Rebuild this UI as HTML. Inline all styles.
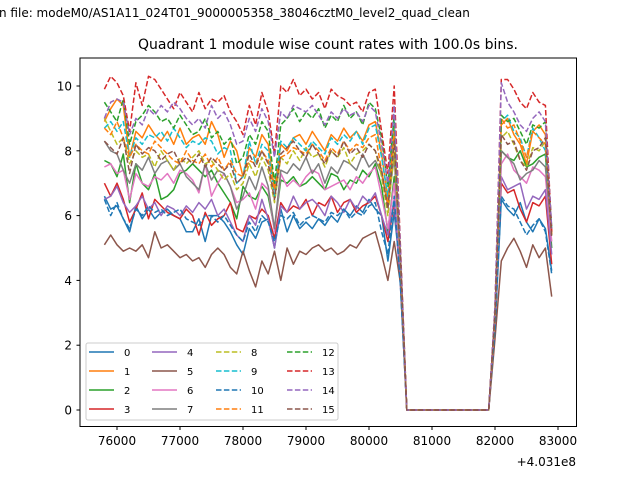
<!DOCTYPE html>
<html><head><meta charset="utf-8"><style>
body{margin:0;background:#fff;}
svg{display:block;font-family:"DejaVu Sans","Liberation Sans",sans-serif;}
</style></head><body>
<svg id="chart" width="640" height="480" viewBox="0 0 640 480">
<rect width="640" height="480" fill="#fff"/>
<text x="-1" y="17" font-size="12" fill="#000">n file: modeM0/AS1A11_024T01_9000005358_38046cztM0_level2_quad_clean</text>
<text x="328" y="49" font-size="14" text-anchor="middle" fill="#000">Quadrant 1 module wise count rates with 100.0s bins.</text>
<g id="series"></g>
<rect x="80" y="58" width="496.5" height="368.5" fill="none" stroke="#000" stroke-width="1"/>
<g id="xaxis"></g>
<g id="yaxis"></g>
<text x="576" y="466" font-size="12" text-anchor="end">+4.031e8</text>
<g id="legend"></g>
</svg>
<script>
const xTicks=[76000,77000,78000,79000,80000,81000,82000,83000];
const yTicks=[0,2,4,6,8,10];
const tStart=75800, tStep=100;
const gap=[0,0,0,0,0,0,0,0,0,0,0,0,0,0];
const s0=[6.6,6.2,6.3,5.9,5.5,6.3,5.9,6.2,5.9,6.1,6.2,6.0,5.9,5.5,5.5,5.9,5.2,6.0,6.0,5.8,5.5,5.1,4.8,5.6,5.3,5.8,5.9,5.0,6.2,5.5,6.0,5.6,5.8,5.6,5.9,5.7,6.0,5.8,6.2,6.0,6.3,6.1,6.5,6.2,6.0,4.6,6.1,4.2];
const s0p=[2.5,6.5,6.2,6.0,6.4,5.8,5.5,5.9,5.6,4.3];
const s1=[8.9,9.3,9.6,9.4,7.8,8.6,8.4,8.8,8.5,8.3,8.6,8.2,8.7,8.2,8.4,8.5,8.2,8.9,8.5,7.8,8.3,8.0,7.2,8.1,7.8,8.5,8.2,6.8,8.2,8.0,8.4,8.5,8.2,8.6,8.3,8.0,8.5,8.3,8.7,8.4,8.6,8.3,8.8,8.9,7.9,6.5,8.8,4.5];
const s1p=[3,8.8,9.0,8.5,8.2,7.6,8.6,8.8,8.5,5.5];
const s2=[7.7,7.6,7.2,7.9,6.4,7.6,7.0,6.8,7.3,6.5,6.6,6.8,7.3,7.4,7.6,7.4,7.2,7.4,7.0,6.7,6.4,5.9,6.9,6.6,6.5,6.9,6.6,5.6,7.1,7.0,7.2,6.9,7.0,7.2,7.0,6.8,7.3,7.2,6.8,7.1,7.0,7.4,7.2,7.6,6.9,5.5,7.2,4.3];
const s2p=[2.8,8.0,7.8,7.7,8.0,7.5,7.6,7.8,7.9,5.0];
const s3=[7.0,6.6,7.0,6.5,5.8,6.2,6.7,5.9,6.5,6.3,6.1,6.0,5.9,6.2,6.0,5.4,6.1,5.7,5.9,6.0,6.4,5.6,5.5,6.0,5.9,6.2,6.0,5.3,6.4,6.1,6.3,6.2,6.5,6.0,6.4,6.3,6.6,6.1,6.4,6.5,6.1,6.3,6.4,6.6,6.0,5.2,6.4,4.0];
const s3p=[2.7,7.0,6.7,6.8,6.2,5.8,6.4,6.3,6.6,4.5];
const s4=[6.5,6.6,6.9,6.4,6.1,6.3,6.6,6.2,6.4,6.0,6.3,6.2,6.0,6.3,6.1,6.4,6.2,6.5,6.0,6.2,5.8,5.4,5.2,6.0,5.7,6.5,5.9,5.0,6.3,6.1,6.6,6.2,6.4,6.5,6.3,6.0,6.6,6.4,6.1,6.5,6.2,6.6,6.4,6.7,6.0,5.4,6.5,3.8];
const s4p=[2.6,7.2,6.8,6.9,7.0,6.2,6.6,6.5,6.8,4.8];
const s5=[5.1,5.4,5.1,4.9,5.0,4.9,5.1,4.7,5.5,5.0,5.1,4.9,4.7,4.8,4.6,4.7,4.4,4.8,5.0,4.8,4.4,4.2,4.9,4.3,3.8,4.6,4.2,4.9,4.0,5.0,4.5,4.9,4.8,5.0,5.1,4.9,5.0,4.8,4.9,5.1,5.0,5.3,5.4,5.5,4.8,4.0,5.2,3.9];
const s5p=[2.2,4.6,5.0,5.3,4.9,4.4,5.1,4.7,5.0,3.5];
const s6=[7.5,7.6,7.3,7.4,6.5,7.3,7.0,6.9,7.2,7.1,7.3,7.0,7.4,7.3,7.1,6.7,7.6,6.6,7.0,7.3,6.9,6.4,6.5,6.7,6.2,7.0,6.8,5.5,7.3,6.9,7.1,6.9,7.2,7.4,7.3,6.8,6.9,7.0,7.1,6.8,7.2,7.0,7.3,7.5,6.6,5.6,7.0,4.4];
const s6p=[2.8,7.6,7.9,7.4,7.2,7.0,7.5,7.4,7.2,5.2];
const s7=[8.3,8.0,7.9,7.4,7.0,7.6,7.4,7.8,7.3,7.6,7.7,7.4,7.6,7.2,7.0,6.8,7.6,7.1,7.4,7.3,6.9,6.2,6.6,7.2,6.8,7.5,6.9,5.6,7.4,7.3,7.6,7.4,7.8,7.3,7.6,7.0,7.5,7.3,7.7,7.6,7.4,7.9,7.5,7.7,7.3,6.3,7.8,4.5];
const s7p=[3.0,8.0,7.8,7.6,7.1,7.3,7.4,7.7,7.5,5.4];
const s8=[9.0,8.6,8.2,8.4,7.6,8.0,7.8,7.9,7.5,8.0,7.7,7.4,7.8,7.6,7.8,8.0,7.6,7.7,7.4,7.1,7.3,6.8,7.0,7.6,7.2,7.8,7.4,6.4,7.8,7.6,8.0,7.7,8.1,7.8,7.9,7.5,8.0,7.8,8.1,7.6,7.9,8.0,8.2,8.0,7.2,6.0,8.0,4.7];
const s8p=[3.0,8.4,8.6,8.2,7.7,7.5,8.1,8.0,8.3,5.4];
const s9=[8.7,8.9,8.6,8.9,7.8,8.4,8.2,8.5,8.4,8.6,8.3,8.7,8.4,8.1,8.3,8.2,8.4,8.3,7.9,8.1,8.0,7.0,7.2,8.3,7.6,8.2,8.0,6.6,8.3,8.1,8.4,8.2,8.0,8.3,8.1,7.9,8.4,8.2,8.5,8.3,8.6,8.2,8.7,8.8,7.8,6.6,9.0,4.6];
const s9p=[3.0,8.9,9.1,8.6,8.4,7.8,8.7,8.4,8.0,5.6];
const s10=[6.5,6.0,6.4,5.9,5.6,6.2,6.0,6.3,6.1,6.2,6.0,6.1,6.2,5.9,5.8,5.7,6.0,6.0,5.8,6.0,5.7,5.4,5.2,5.8,5.5,6.0,5.8,5.2,6.0,5.9,6.1,5.7,5.9,6.0,5.9,5.8,6.1,6.0,6.2,5.9,6.1,6.0,6.3,6.4,5.5,4.8,6.6,3.8];
const s10p=[2.5,6.6,6.3,6.2,5.8,5.4,5.7,5.9,5.5,4.2];
const s11=[8.7,8.5,8.9,8.4,7.8,8.2,8.0,7.9,8.3,8.1,7.9,7.7,7.6,8.0,7.7,7.6,7.9,7.5,7.8,7.4,7.7,7.3,7.2,7.7,7.6,8.0,7.7,6.8,7.8,7.9,8.1,8.0,7.9,8.2,8.0,7.7,8.1,7.9,8.3,8.0,8.2,8.1,8.4,8.5,7.4,6.3,8.6,4.6];
const s11p=[2.9,9.0,8.7,8.8,8.3,7.8,8.6,8.4,8.2,5.4];
const s12=[9.5,9.2,8.9,9.6,8.2,8.9,9.1,9.4,9.2,8.9,9.0,8.7,9.1,8.8,8.5,8.6,9.0,8.4,8.6,8.2,8.4,7.6,7.8,8.5,8.2,8.9,8.6,7.0,8.8,9.0,9.3,8.9,9.2,9.0,9.3,8.7,9.1,8.9,9.4,9.0,9.2,8.8,9.5,9.3,8.4,6.9,9.1,4.8];
const s12p=[3.0,9.1,8.9,9.0,8.6,8.2,8.8,8.7,8.9,5.6];
const s13=[9.9,10.3,10.1,9.7,8.6,10.1,9.4,10.3,10.2,9.9,9.6,9.3,9.8,9.5,9.2,9.8,9.3,9.6,9.5,9.7,9.2,8.9,8.5,9.4,8.8,9.8,9.2,7.9,10.0,9.8,10.2,9.7,9.9,9.6,9.8,9.3,9.9,9.7,9.6,9.4,9.5,9.2,9.8,9.9,8.6,7.3,10.0,5.0];
const s13p=[3.2,10.2,10.2,9.9,9.5,9.3,9.8,9.5,9.4,5.5];
const s14=[9.0,9.5,9.6,9.5,8.5,9.0,8.8,9.3,9.1,9.4,9.2,9.5,9.3,9.0,8.8,9.0,8.7,9.4,9.0,9.2,8.8,8.2,8.3,9.0,8.6,9.3,8.9,7.8,9.2,9.0,9.4,9.3,9.2,9.4,9.1,8.8,9.2,9.0,9.3,9.1,9.2,8.9,9.4,9.2,8.2,7.0,9.4,4.9];
const s14p=[3.2,10.1,9.5,9.2,8.8,8.6,9.0,9.2,8.9,5.6];
const s15=[8.3,8.1,7.9,8.4,7.3,8.2,7.9,8.1,8.0,7.7,7.9,8.0,7.6,7.8,7.6,7.9,7.5,7.8,7.6,7.4,7.6,7.0,7.2,7.9,7.5,8.0,7.6,6.5,7.9,8.1,8.3,8.0,7.8,8.2,7.9,7.6,8.0,7.8,8.3,7.9,8.1,7.8,8.2,8.0,7.4,6.2,8.3,4.7];
const s15p=[3.0,8.5,8.2,8.3,7.7,7.4,8.0,8.1,8.4,5.3];
const seriesNames=["0","1","2","3","4","5","6","7","8","9","10","11","12","13","14","15"];

const pre=[s0,s1,s2,s3,s4,s5,s6,s7,s8,s9,s10,s11,s12,s13,s14,s15];
const post=[s0p,s1p,s2p,s3p,s4p,s5p,s6p,s7p,s8p,s9p,s10p,s11p,s12p,s13p,s14p,s15p];
const colors=["#1f77b4","#ff7f0e","#2ca02c","#d62728","#9467bd","#8c564b","#e377c2","#7f7f7f","#bcbd22","#17becf","#1f77b4","#ff7f0e","#2ca02c","#d62728","#9467bd","#8c564b"];
const NS="http://www.w3.org/2000/svg";
function X(t){return 117+(t-76000)*0.063;}
function Y(v){return 410-v*32.4;}
const sg=document.getElementById('series');
pre.forEach((arr,k)=>{
  const vals=arr.concat(gap,post[k]);
  const pts=vals.map((v,i)=>X(tStart+i*tStep).toFixed(1)+','+Y(v).toFixed(1)).join(' ');
  const pl=document.createElementNS(NS,'polyline');
  pl.setAttribute('points',pts);
  pl.setAttribute('fill','none');
  pl.setAttribute('stroke',colors[k]);
  pl.setAttribute('stroke-width','1.5');
  pl.setAttribute('stroke-linejoin','round');
  if(k>=8)pl.setAttribute('stroke-dasharray','5.5 2.4');
  
  
  sg.appendChild(pl);
});
const xg=document.getElementById('xaxis');
xTicks.forEach(t=>{
  const l=document.createElementNS(NS,'line');
  l.setAttribute('x1',X(t));l.setAttribute('x2',X(t));
  l.setAttribute('y1',426.5);l.setAttribute('y2',430);
  l.setAttribute('stroke','#000');
  
  
  xg.appendChild(l);
  const tx=document.createElementNS(NS,'text');
  tx.setAttribute('x',X(t));tx.setAttribute('y',445);
  tx.setAttribute('font-size','12');tx.setAttribute('text-anchor','middle');
  tx.textContent=t;
  
  
  xg.appendChild(tx);
});
const yg=document.getElementById('yaxis');
yTicks.forEach(v=>{
  const l=document.createElementNS(NS,'line');
  l.setAttribute('x1',76.5);l.setAttribute('x2',80);
  l.setAttribute('y1',Y(v));l.setAttribute('y2',Y(v));
  l.setAttribute('stroke','#000');
  
  
  yg.appendChild(l);
  const tx=document.createElementNS(NS,'text');
  tx.setAttribute('x',72);tx.setAttribute('y',Y(v)+4.5);
  tx.setAttribute('font-size','12');tx.setAttribute('text-anchor','end');
  tx.textContent=v;
  
  
  yg.appendChild(tx);
});
const lg=document.getElementById('legend');
const box=document.createElementNS(NS,'rect');
box.setAttribute('x',86);box.setAttribute('y',343);box.setAttribute('width',252);box.setAttribute('height',77);
box.setAttribute('rx',2);box.setAttribute('fill','#fff');box.setAttribute('fill-opacity','0.8');box.setAttribute('stroke','#ccc');


lg.appendChild(box);
const colX=[89,152,216,287];
seriesNames.forEach((n,k)=>{
  const c=Math.floor(k/4), r=k%4;
  const y=352+r*19;
  const l=document.createElementNS(NS,'line');
  l.setAttribute('x1',colX[c]);l.setAttribute('x2',colX[c]+25);
  l.setAttribute('y1',y);l.setAttribute('y2',y);
  l.setAttribute('stroke',colors[k]);l.setAttribute('stroke-width','1.5');
  if(k>=8)l.setAttribute('stroke-dasharray','5.5 2.4');
  
  
  lg.appendChild(l);
  const tx=document.createElementNS(NS,'text');
  tx.setAttribute('x',colX[c]+35);tx.setAttribute('y',y+4);
  tx.setAttribute('font-size','10');
  tx.textContent=n;
  
  
  lg.appendChild(tx);
});
</script>
</body></html>
